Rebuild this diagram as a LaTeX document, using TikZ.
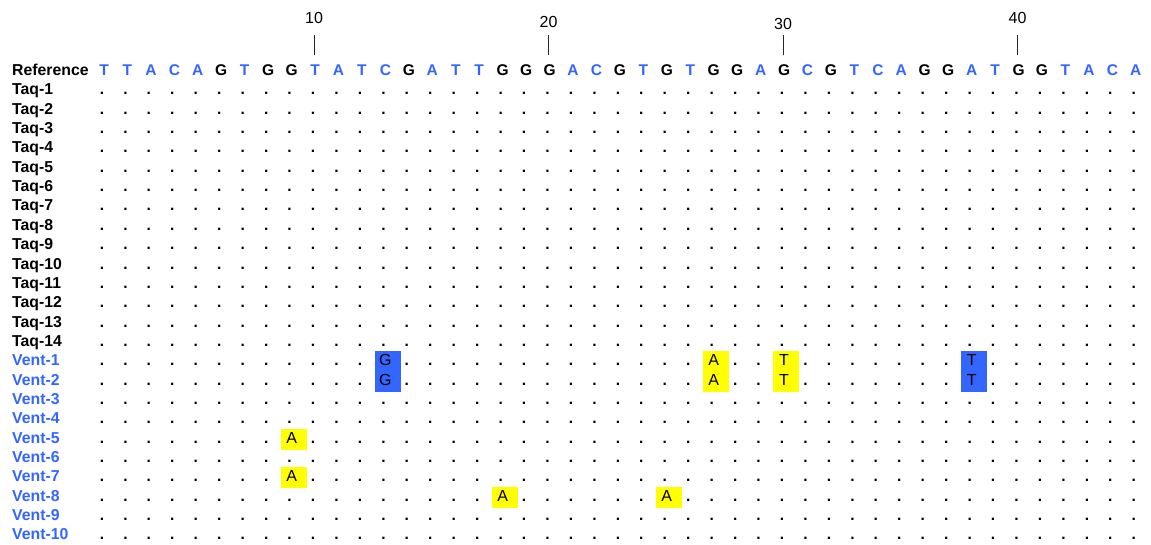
\documentclass[tikz,border=0pt]{standalone}
\usepackage{fontspec}
\setmainfont{Liberation Sans}
\definecolor{seqblue}{HTML}{3366FF}
\definecolor{mutblue}{HTML}{3366FF}
\definecolor{mutyellow}{HTML}{FFFF00}
\colorlet{seqA}{seqblue}
\colorlet{seqC}{seqblue}
\colorlet{seqT}{seqblue}
\colorlet{seqG}{black}
\usetikzlibrary{positioning,calc}

\begin{document}
\begin{tikzpicture}[
      x=1pt, y=-1pt,
      rowlbl/.style={anchor=base west, inner sep=0pt,
                     font=\fontsize{15.8}{18}\selectfont\bfseries},
      seqletter/.style={anchor=base, inner sep=0pt, text height=11pt, text depth=0pt,
                        font=\fontsize{15.5}{18}\selectfont\bfseries},
      gapdot/.style={anchor=base, inner sep=0pt,
                     font=\fontsize{15.5}{18}\selectfont\bfseries},
      mutletter/.style={anchor=base, inner sep=0pt,
                        font=\fontsize{16}{18}\selectfont},
      numlbl/.style={inner sep=0pt, font=\fontsize{16}{18}\selectfont},
      tickline/.style={line width=0.9pt, black!85},
    ]
    \useasboundingbox (0,0) rectangle (1151,544);

    % reference row
    \node[rowlbl] (reflbl) at (12,75.5) {Reference};
    \foreach \b [count=\c] in {T,T,A,C,A,G,T,G,G,T,A,T,C,G,A,T,T,G,G,G,A,C,G,T,G,
                               T,G,G,A,G,C,G,T,C,A,G,G,A,T,G,G,T,A,C,A} {
      \pgfmathsetmacro\xc{104+(\c-1)*23.45}
      \node[seqletter, text=seq\b] (ref\c) at (\xc,75.5) {\b};
    }

    % position ticks
    \foreach \c/\ly in {10/18,20/22,30/24,40/18} {
      \pgfmathsetmacro\xc{104+(\c-1)*23.45-1}
      \node[numlbl] (num\c) at (\xc,\ly) {\c};
      \draw[tickline] ([xshift=-1pt,yshift=9pt]ref\c.north) -- ++(0,-20);
    }

    % sample names
    \foreach \i in {1,...,14} {
      \pgfmathsetmacro\yb{75.5+\i*19.35}
      \node[rowlbl] (taq\i) at (12,\yb) {Taq-\i};
    }
    \foreach \i in {1,...,10} {
      \pgfmathsetmacro\yb{75.5+(14+\i)*19.35}
      \node[rowlbl, text=seqblue] (vent\i) at (12,\yb) {Vent-\i};
    }

    % identical positions
    \foreach \r in {1,...,24} {
      \foreach \c in {1,...,45} {
        \pgfmathsetmacro\xc{104+(\c-1)*23.45-2}
        \pgfmathsetmacro\yb{75.5+\r*19.35}
        \node[gapdot] (d-\r-\c) at (\xc,\yb) {.};
      }
    }

    % substitutions
    \foreach \c/\ra/\rb/\clr in {13/15/16/mutblue, 27/15/16/mutyellow, 30/15/16/mutyellow,
                                 38/15/16/mutblue, 9/19/19/mutyellow, 9/21/21/mutyellow,
                                 18/22/22/mutyellow, 25/22/22/mutyellow} {
      \pgfmathsetmacro\xc{104+(\c-1)*23.45}
      \pgfmathsetmacro\ya{75.5+\ra*19.35-14.5}
      \pgfmathsetmacro\yz{75.5+\rb*19.35+6.5}
      \fill[\clr] (\xc-10.6,\ya) rectangle (\xc+15.4,\yz);
    }
    \foreach \c/\r/\b in {13/15/G, 13/16/G, 27/15/A, 27/16/A, 30/15/T, 30/16/T,
                          38/15/T, 38/16/T, 9/19/A, 9/21/A, 18/22/A, 25/22/A} {
      \pgfmathsetmacro\xc{104+(\c-1)*23.45}
      \pgfmathsetmacro\yb{75.5+\r*19.35}
      \node[mutletter] (m-\r-\c) at (\xc,\yb) {\b};
    }
  \end{tikzpicture}
\end{document}
